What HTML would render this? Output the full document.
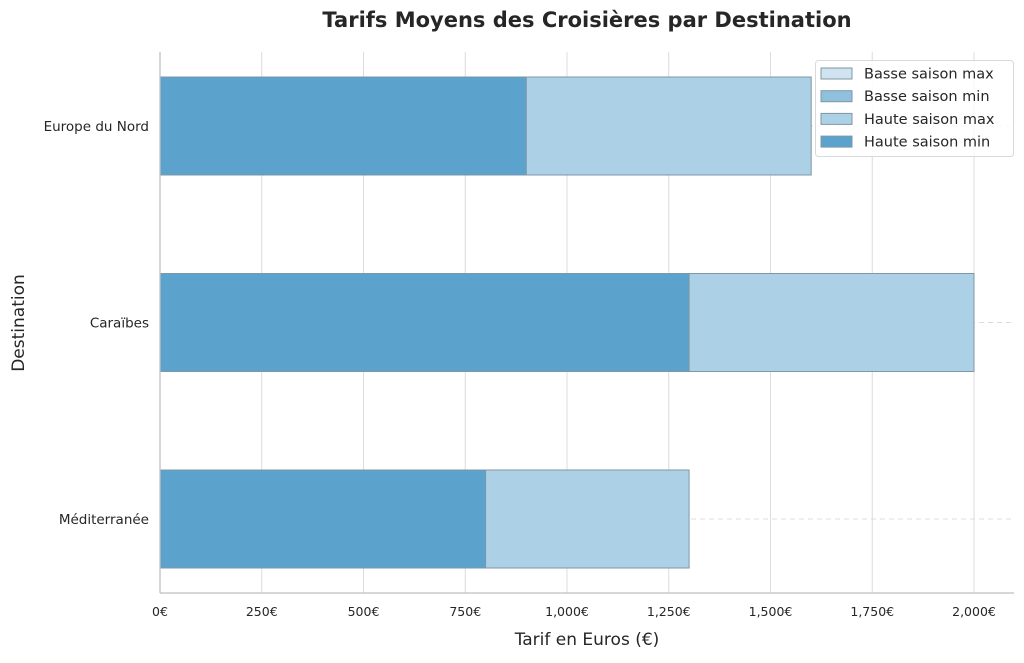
<!DOCTYPE html>
<html><head><meta charset="utf-8">
<style>
body{margin:0;background:#fff;width:1024px;height:658px;overflow:hidden;font-family:"Liberation Sans","DejaVu Sans",sans-serif;}
text{font-family:"DejaVu Sans","Liberation Sans",sans-serif;fill:#262626;}
</style></head>
<body>
<svg id="chart" width="1024" height="658" xmlns="http://www.w3.org/2000/svg">
<text x="587" y="27" text-anchor="middle" font-size="21" font-weight="bold">Tarifs Moyens des Croisières par Destination</text>
<g id="grid"></g>
<g id="bars"></g>
<g id="axes"></g>
<text x="587" y="645" text-anchor="middle" font-size="17">Tarif en Euros (€)</text>
<text x="24" y="323" text-anchor="middle" font-size="17" transform="rotate(-90 24 323)">Destination</text>
<g id="legend"></g>
</svg>
<script>
const categories=["Europe du Nord","Caraïbes","Méditerranée"];
const basseMax=[1200,1500,1000];
const basseMin=[600,900,500];
const hauteMax=[1600,2000,1300];
const hauteMin=[900,1300,800];
const tickValues=[0,250,500,750,1000,1250,1500,1750,2000];
const tickLabels=["0€","250€","500€","750€","1,000€","1,250€","1,500€","1,750€","2,000€"];
const seriesNames=["Basse saison max","Basse saison min","Haute saison max","Haute saison min"];
const seriesColors=["#cfe3f0","#8fc0dd","#acd0e6","#5ba2cd"];

const NS="http://www.w3.org/2000/svg";
const X0=160,X1=974,XR=1014,YT=52,YB=593;
const x=v=>X0+(v/2000)*(X1-X0);
const yc=i=>126+i*196.5;
const BH=98;
function mk(tag,attrs,parent){const e=document.createElementNS(NS,tag);for(const k in attrs)e.setAttribute(k,attrs[k]);parent.appendChild(e);return e;}
const grid=document.getElementById('grid'),bars=document.getElementById('bars'),axes=document.getElementById('axes'),legend=document.getElementById('legend');
tickValues.forEach((v,i)=>{
 const l=mk('line',{x1:x(v),x2:x(v),y1:YT,y2:YB,stroke:'#dcdcdc','stroke-width':1},grid);
 
 
 const t=mk('text',{x:x(v),y:616,'text-anchor':'middle','font-size':12.5},axes);
 t.textContent=tickLabels[i];
 
 
});
categories.forEach((c,i)=>{
 const g=mk('line',{x1:X0,x2:XR,y1:yc(i),y2:yc(i),stroke:'#dcdcdc','stroke-dasharray':'5,4','stroke-width':1},grid);
 
 
 const t=mk('text',{x:149,y:yc(i)+5,'text-anchor':'end','font-size':13.5},axes);
 t.textContent=c;
 
 
 const series=[basseMax,basseMin,hauteMax,hauteMin];
 series.forEach((s,j)=>{
  const r=mk('rect',{x:X0,y:yc(i)-BH/2,width:x(s[i])-X0,height:BH,fill:seriesColors[j],stroke:'#7f97a6','stroke-width':1},bars);
  
  
 });
});
const ax=mk('line',{x1:X0,x2:X0,y1:YT,y2:YB,stroke:'#bfbfbf','stroke-width':1.3},axes);


const bx=mk('line',{x1:X0,x2:XR,y1:YB,y2:YB,stroke:'#bfbfbf','stroke-width':1.3},axes);


const lb=mk('rect',{x:815.5,y:60.5,width:198,height:96,rx:3,fill:'#fff','fill-opacity':0.85,stroke:'#d9d9d9'},legend);


seriesNames.forEach((n,j)=>{
 const yy=73+j*22.7;
 const s=mk('rect',{x:821,y:yy-5,width:31,height:11,fill:seriesColors[j],stroke:'#7f97a6'},legend);
 
 
 const t=mk('text',{x:864,y:yy+5.5,'font-size':14.5},legend);
 t.textContent=n;
 
 
});
</script>
</body></html>
